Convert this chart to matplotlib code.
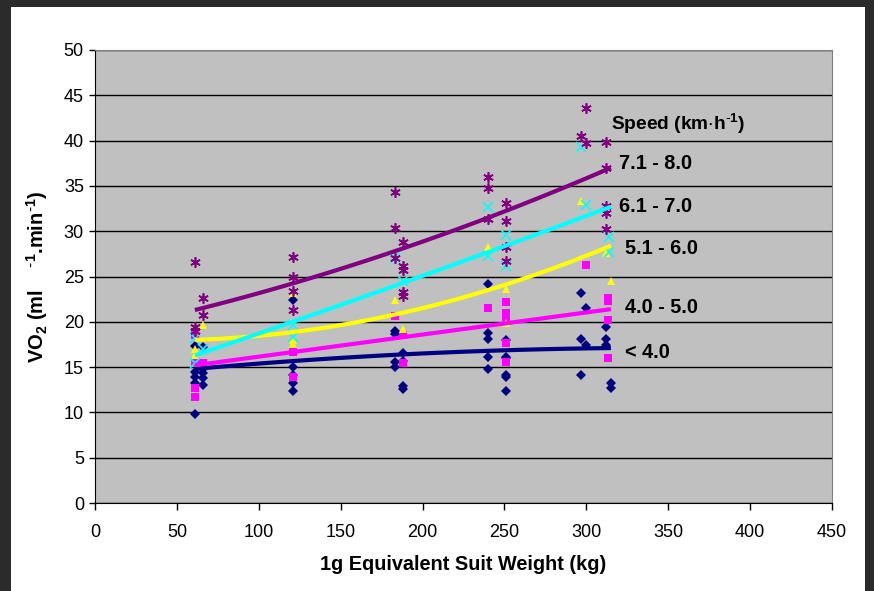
import numpy as np
import matplotlib
matplotlib.use("Agg")
import matplotlib.pyplot as plt
from matplotlib.patches import Rectangle

plt.rcParams['font.family'] = ['Liberation Sans', 'DejaVu Sans']
plt.rcParams['mathtext.default'] = 'regular'

# speed groups (km/h) - scatter points
lt4_x = [61, 61, 61, 61, 61, 66, 66, 66, 66, 66, 121, 121, 121, 121, 121,
         183, 183, 183, 183, 188, 188, 188, 188, 240, 240, 240, 240, 240,
         251, 251, 251, 251, 251, 251, 297, 297, 297, 300, 300, 312, 312, 312, 315, 315]
lt4_y = [17.3, 14.5, 13.9, 9.8, 13.2, 17.2, 14.4, 13.8, 13.0, 14.8, 22.4, 15.0, 14.1, 13.2, 12.4,
         19.0, 18.6, 15.6, 15.0, 16.6, 15.7, 12.9, 12.6, 24.2, 18.8, 18.1, 16.1, 14.8,
         18.0, 16.1, 16.0, 14.1, 13.9, 12.4, 23.2, 18.1, 14.1, 21.5, 17.4, 19.4, 18.1, 17.4, 13.2, 12.7]

s45_x = [61, 61, 61, 61, 66, 121, 121, 183, 188, 188, 240, 251, 251, 251, 251, 251,
         300, 313, 313, 313, 313]
s45_y = [18.5, 15.6, 12.7, 11.7, 15.4, 16.7, 13.9, 20.6, 18.5, 15.5, 21.5, 22.2, 21.0, 20.5, 17.7, 15.6,
         26.3, 22.6, 22.3, 20.2, 16.0]

s56_x = [61, 61, 66, 121, 121, 121, 183, 188, 240, 251, 251, 297, 312, 315]
s56_y = [17.0, 16.3, 19.7, 23.2, 18.0, 17.5, 22.4, 19.2, 28.3, 23.6, 19.9, 33.3, 27.6, 24.5]

s67_x = [61, 61, 66, 121, 121, 183, 188, 240, 240, 251, 251, 297, 300, 314, 314]
s67_y = [18.2, 15.4, 17.0, 19.6, 18.3, 27.0, 24.5, 32.7, 27.3, 29.6, 26.2, 39.3, 32.9, 29.4, 27.7]

s78_x = [61, 61, 61, 66, 66, 121, 121, 121, 121, 183, 183, 183, 188, 188, 188, 188, 188,
         240, 240, 240, 251, 251, 251, 251, 297, 300, 300, 312, 312, 312, 312, 312]
s78_y = [26.6, 19.4, 19.0, 22.6, 20.7, 27.2, 24.9, 23.4, 21.3, 34.3, 30.4, 27.0, 28.8, 26.2, 25.7, 23.3, 22.8,
         36.0, 34.8, 31.3, 33.1, 31.1, 28.3, 26.7, 40.5, 43.6, 39.7, 39.8, 37.0, 32.8, 32.0, 30.2]

# trendline values read at three weights
trend_x = [61, 188, 315]
trend_lt4 = [14.8, 16.4, 17.1]
trend_45 = [15.2, 18.3, 21.4]
trend_56 = [18.0, 21.0, 28.4]
trend_67 = [16.3, 24.3, 32.7]
trend_78 = [21.3, 28.1, 37.0]

labels = ['< 4.0', '4.0 - 5.0', '5.1 - 6.0', '6.1 - 7.0', '7.1 - 8.0']
label_x = [323.5, 323.5, 323.5, 320, 320]
label_y = [16.6, 21.6, 28.1, 32.7, 37.5]

fig = plt.figure(figsize=(8.74, 5.91), dpi=100, facecolor='#2b2b2b')
fig.patches.append(Rectangle((11 / 874, 0), 854 / 874, 584 / 591, transform=fig.transFigure,
                             facecolor='white', edgecolor='none', zorder=-10))

ax = fig.add_axes([95 / 874, 1 - 503 / 591, 737 / 874, 453 / 591])
ax.set_facecolor('#c0c0c0')

series = [
    (lt4_x, lt4_y, trend_lt4, '#000080', 'D', 5.2),
    (s45_x, s45_y, trend_45, '#ff00ff', 's', 5.5),
    (s56_x, s56_y, trend_56, '#ffff00', '^', 6),
    (s67_x, s67_y, trend_67, '#00ffff', 'x', 6.5),
    (s78_x, s78_y, trend_78, '#800080', (6, 2, 0), 7.5),
]

for xs, ys, tr, col, mk, ms in series:
    if mk == 'x' or isinstance(mk, tuple):
        ax.plot(xs, ys, linestyle='none', marker=mk, markersize=ms, color=col,
                markeredgewidth=1.2, zorder=3)
    else:
        ax.plot(xs, ys, linestyle='none', marker=mk, markersize=ms, color=col,
                markeredgewidth=0, zorder=3)

xx = np.linspace(61, 315, 100)
for xs, ys, tr, col, mk, ms in series:
    c = np.polyfit(trend_x, tr, 2)
    ax.plot(xx, np.polyval(c, xx), color=col, lw=3, solid_capstyle='butt', zorder=4)

for lab, lx, ly in zip(labels, label_x, label_y):
    ax.text(lx, ly, lab, fontsize=14.3, fontweight='bold', va='center', ha='left', zorder=5)
ax.text(315, 41.8, 'Speed (km$\\cdot$h$^{\\text{-}1}$)', fontsize=13.8, fontweight='bold',
        va='center', ha='left', zorder=5)

ax.set_xlim(0, 450)
ax.set_ylim(0, 50)
ax.set_xticks(np.arange(0, 451, 50))
ax.set_yticks(np.arange(0, 51, 5))
ax.yaxis.grid(True, color='black', lw=1)
ax.set_axisbelow(True)
ax.tick_params(axis='both', direction='out', length=5, width=1, labelsize=13, colors='black')
ax.tick_params(axis='x', pad=10)
ax.tick_params(axis='y', length=4, pad=4)
for s in ['top', 'right']:
    ax.spines[s].set_color('#808080')
for s in ['left', 'bottom']:
    ax.spines[s].set_color('black')

ax.set_xlabel('1g Equivalent Suit Weight (kg)', fontsize=14.3, fontweight='bold', labelpad=10)
ax.set_ylabel('VO$_2$ (ml    $^{\\text{-}1}$.min$^{\\text{-}1}$)', fontsize=14.5, fontweight='bold',
              labelpad=10)

fig.savefig('out.png', dpi=100, facecolor=fig.get_facecolor())
